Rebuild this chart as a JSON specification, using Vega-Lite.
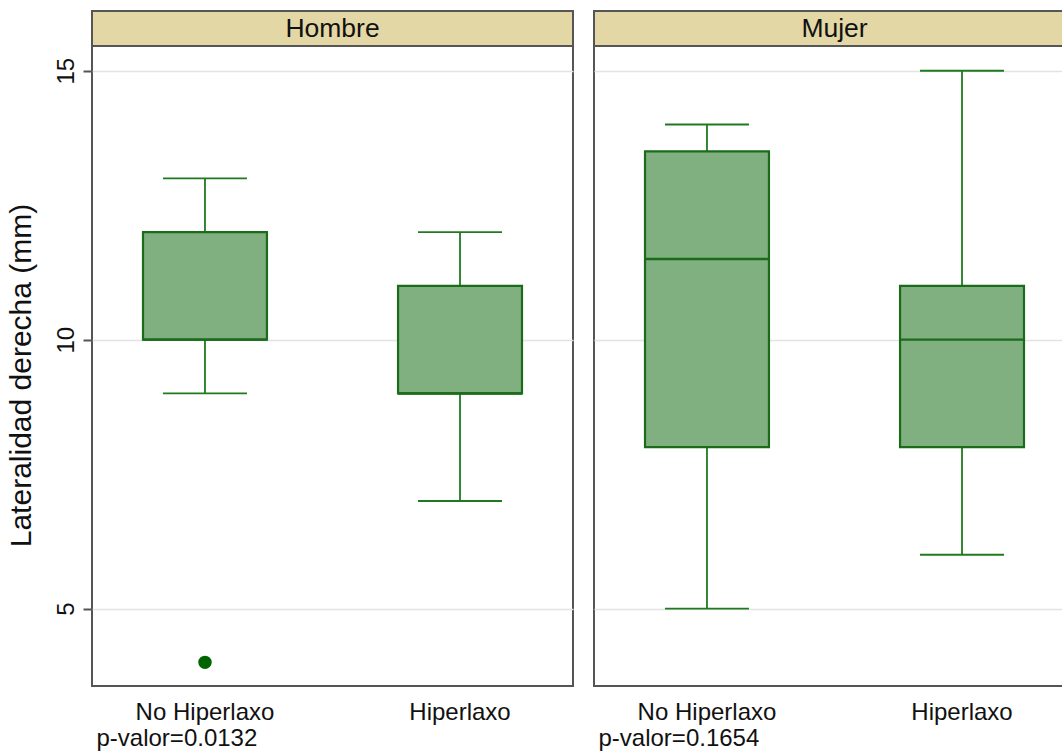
{
  "$schema": "https://vega.github.io/schema/vega-lite/v6.json",
  "background": "white",
  "padding": {"left": 5, "top": 10, "right": 0, "bottom": 0},
  "autosize": {"type": "pad"},
  "datasets": {
    "cajas": [
      {"sexo": "Hombre", "grupo": "No Hiperlaxo", "minimo": 9, "q1": 10, "mediana": 10, "q3": 12, "maximo": 13},
      {"sexo": "Hombre", "grupo": "Hiperlaxo", "minimo": 7, "q1": 9, "mediana": 9, "q3": 11, "maximo": 12},
      {"sexo": "Mujer", "grupo": "No Hiperlaxo", "minimo": 5, "q1": 8, "mediana": 11.5, "q3": 13.5, "maximo": 14},
      {"sexo": "Mujer", "grupo": "Hiperlaxo", "minimo": 6, "q1": 8, "mediana": 10, "q3": 11, "maximo": 15}
    ],
    "atipicos": [
      {"sexo": "Hombre", "grupo": "No Hiperlaxo", "valor": 4}
    ]
  },
  "config": {
    "font": "Liberation Sans",
    "view": {"stroke": "#555555", "strokeWidth": 2},
    "axis": {
      "labelFont": "Liberation Sans",
      "titleFont": "Liberation Sans",
      "labelColor": "#111111",
      "titleColor": "#111111",
      "titleFontWeight": "normal",
      "labelFontSize": 24,
      "titleFontSize": 24,
      "gridColor": "#e3e3e3",
      "gridWidth": 1.5
    },
    "axisX": {
      "ticks": false,
      "tickSize": 0,
      "domain": false,
      "grid": false,
      "labelAngle": 0,
      "labelPadding": 14,
      "titleAnchor": "start",
      "titleAlign": "left",
      "titleX": 4,
      "titleY": 59.5,
      "titleBaseline": "alphabetic"
    },
    "axisY": {
      "grid": true,
      "domain": false,
      "tickSize": 9,
      "tickColor": "#555555",
      "tickWidth": 2,
      "labelAngle": -90,
      "labelAlign": "center",
      "labelBaseline": "alphabetic",
      "labelPadding": 10,
      "titleFontSize": 30,
      "titleAngle": 270,
      "titleX": -62,
      "titleY": 329,
      "titleBaseline": "alphabetic"
    }
  },
  "spacing": 19,
  "hconcat": [
    {
      "spacing": 0,
      "bounds": "flush",
      "vconcat": [
        {
          "width": 481,
          "height": 35,
          "data": {"values": [{"sexo": "Hombre"}]},
          "view": {"fill": "#e2d7a5", "stroke": "#555555", "strokeWidth": 2},
          "mark": {"type": "text", "fontSize": 26.5, "color": "#111111", "font": "Liberation Sans"},
          "encoding": {"text": {"field": "sexo"}}
        },
        {
          "width": 481,
          "height": 640,
          "encoding": {
            "x": {
              "field": "grupo",
              "type": "nominal",
              "sort": ["No Hiperlaxo", "Hiperlaxo"],
              "scale": {"paddingInner": 0.514, "paddingOuter": 0.2},
              "title": "p-valor=0.0132"
            }
          },
          "layer": [
            {
              "data": {"name": "cajas"},
              "transform": [{"filter": {"field": "sexo", "equal": "Hombre"}}],
              "mark": {"type": "rule", "color": "#1f7a1f", "strokeWidth": 1.8},
              "encoding": {
                "y": {"field": "minimo", "type": "quantitative", "scale": {"domain": [3.56, 15.46], "nice": false, "zero": false}, "axis": {"values": [5, 10, 15]}, "title": "Lateralidad derecha (mm)"},
                "y2": {"field": "maximo"}
              }
            },
            {
              "data": {"name": "cajas"},
              "transform": [{"filter": {"field": "sexo", "equal": "Hombre"}}],
              "mark": {"type": "tick", "color": "#1f7a1f", "size": 84, "thickness": 1.8, "opacity": 1},
              "encoding": {
                "y": {"field": "minimo", "type": "quantitative", "title": "Lateralidad derecha (mm)"}
              }
            },
            {
              "data": {"name": "cajas"},
              "transform": [{"filter": {"field": "sexo", "equal": "Hombre"}}],
              "mark": {"type": "tick", "color": "#1f7a1f", "size": 84, "thickness": 1.8, "opacity": 1},
              "encoding": {
                "y": {"field": "maximo", "type": "quantitative", "title": "Lateralidad derecha (mm)"}
              }
            },
            {
              "data": {"name": "cajas"},
              "transform": [{"filter": {"field": "sexo", "equal": "Hombre"}}],
              "mark": {"type": "bar", "fill": "#80b080", "stroke": "#1a6b1a", "strokeWidth": 2.2, "opacity": 1},
              "encoding": {
                "y": {"field": "q1", "type": "quantitative", "title": "Lateralidad derecha (mm)"},
                "y2": {"field": "q3"}
              }
            },
            {
              "data": {"name": "cajas"},
              "transform": [{"filter": {"field": "sexo", "equal": "Hombre"}}],
              "mark": {"type": "tick", "color": "#1a6b1a", "size": 124, "thickness": 2.4, "opacity": 1},
              "encoding": {
                "y": {"field": "mediana", "type": "quantitative", "title": "Lateralidad derecha (mm)"}
              }
            },
            {
              "data": {"name": "atipicos"},
              "transform": [{"filter": {"field": "sexo", "equal": "Hombre"}}],
              "mark": {"type": "circle", "color": "#006400", "size": 180, "opacity": 1},
              "encoding": {
                "y": {"field": "valor", "type": "quantitative", "title": "Lateralidad derecha (mm)"}
              }
            }
          ]
        }
      ]
    },
    {
      "spacing": 0,
      "bounds": "flush",
      "vconcat": [
        {
          "width": 481,
          "height": 35,
          "data": {"values": [{"sexo": "Mujer"}]},
          "view": {"fill": "#e2d7a5", "stroke": "#555555", "strokeWidth": 2},
          "mark": {"type": "text", "fontSize": 26.5, "color": "#111111", "font": "Liberation Sans"},
          "encoding": {"text": {"field": "sexo"}}
        },
        {
          "width": 481,
          "height": 640,
          "data": {"name": "cajas"},
          "transform": [{"filter": {"field": "sexo", "equal": "Mujer"}}],
          "encoding": {
            "x": {
              "field": "grupo",
              "type": "nominal",
              "sort": ["No Hiperlaxo", "Hiperlaxo"],
              "scale": {"paddingInner": 0.514, "paddingOuter": 0.2},
              "title": "p-valor=0.1654"
            }
          },
          "layer": [
            {
              "mark": {"type": "rule", "color": "#1f7a1f", "strokeWidth": 1.8},
              "encoding": {
                "y": {"field": "minimo", "type": "quantitative", "scale": {"domain": [3.56, 15.46], "nice": false, "zero": false}, "axis": {"values": [5, 10, 15], "labels": false, "ticks": false}, "title": null},
                "y2": {"field": "maximo"}
              }
            },
            {
              "mark": {"type": "tick", "color": "#1f7a1f", "size": 84, "thickness": 1.8, "opacity": 1},
              "encoding": {
                "y": {"field": "minimo", "type": "quantitative", "title": null}
              }
            },
            {
              "mark": {"type": "tick", "color": "#1f7a1f", "size": 84, "thickness": 1.8, "opacity": 1},
              "encoding": {
                "y": {"field": "maximo", "type": "quantitative", "title": null}
              }
            },
            {
              "mark": {"type": "bar", "fill": "#80b080", "stroke": "#1a6b1a", "strokeWidth": 2.2, "opacity": 1},
              "encoding": {
                "y": {"field": "q1", "type": "quantitative", "title": null},
                "y2": {"field": "q3"}
              }
            },
            {
              "mark": {"type": "tick", "color": "#1a6b1a", "size": 124, "thickness": 2.4, "opacity": 1},
              "encoding": {
                "y": {"field": "mediana", "type": "quantitative", "title": null}
              }
            }
          ]
        }
      ]
    }
  ]
}
